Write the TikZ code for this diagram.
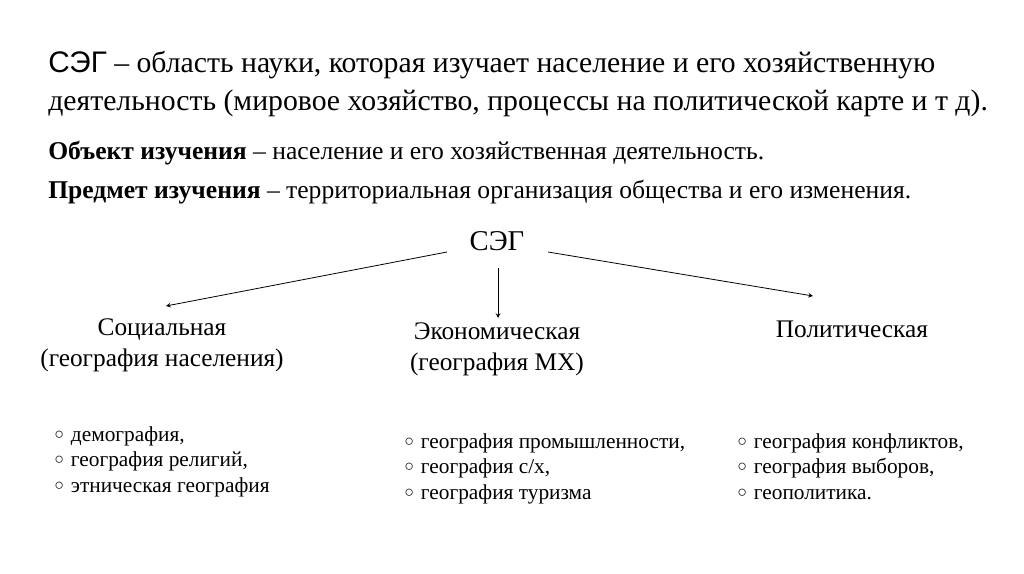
\documentclass[tikz,border=0pt]{standalone}
\usepackage{fontspec}
\setmainfont{Liberation Serif}
\newfontfamily\sansfnt{Liberation Sans}
\usetikzlibrary{positioning}

\newcommand{\circbul}{\makebox[12.5pt][l]{\raisebox{0.05em}{\fontsize{12}{12}\selectfont○}}}

\begin{document}
\begin{tikzpicture}[x=0.75pt,y=-0.75pt,
    line/.style={anchor=base west,inner sep=0pt},
    branch/.style={align=center,inner sep=0pt,font=\fontsize{19}{23.5}\selectfont},
    item/.style={anchor=base west,inner sep=0pt,font=\fontsize{16}{19}\selectfont},
    arr/.style={->,>=stealth,semithick}]

  \useasboundingbox (0,0) rectangle (1024,574);

  % Definition
  \node[line,font=\fontsize{22.3}{26}\selectfont] (def1) at (48,73)
    {{\sansfnt СЭГ} – область науки, которая изучает население и его хозяйственную};
  \node[line,font=\fontsize{22.3}{26}\selectfont] (def2) at (48,111)
    {деятельность (мировое хозяйство, процессы на политической карте и т д).};

  % Object and subject
  \node[line,font=\fontsize{19.2}{22}\selectfont] (obj) at (48,160)
    {\textbf{Объект изучения} – население и его хозяйственная деятельность.};
  \node[line,font=\fontsize{19.2}{22}\selectfont] (subj) at (48,199)
    {\textbf{Предмет изучения} – территориальная организация общества и его изменения.};

  % Root
  \node[inner sep=0pt,font=\fontsize{21.5}{24}\selectfont] (seg) at (497,241) {СЭГ};

  % Branches
  \node[branch] (soc) at (162,345) {Социальная\\(география населения)};
  \node[branch] (eco) at (497,349) {Экономическая\\(география МХ)};
  \node[branch] (pol) at (852,329) {Политическая};

  % Arrow ends
  \coordinate (segL) at (447,252);
  \coordinate (segM) at (498,268);
  \coordinate (segR) at (548,252);
  \coordinate (socT) at (166,306);
  \coordinate (ecoT) at (498,318);
  \coordinate (polT) at (813,296);

  \draw[arr] (segL) -- (socT);
  \draw[arr] (segM) -- (ecoT);
  \draw[arr] (segR) -- (polT);

  % Lists
  \node[item] (s1) at (54,441) {\circbul демография,};
  \node[item] (s2) at (54,466) {\circbul география религий,};
  \node[item] (s3) at (54,492) {\circbul этническая география};

  \node[item] (e1) at (404,448) {\circbul география промышленности,};
  \node[item] (e2) at (404,473) {\circbul география с/х,};
  \node[item] (e3) at (404,499) {\circbul география туризма};

  \node[item] (p1) at (737,448) {\circbul география конфликтов,};
  \node[item] (p2) at (737,473) {\circbul география выборов,};
  \node[item] (p3) at (737,499) {\circbul геополитика.};

\end{tikzpicture}
\end{document}
